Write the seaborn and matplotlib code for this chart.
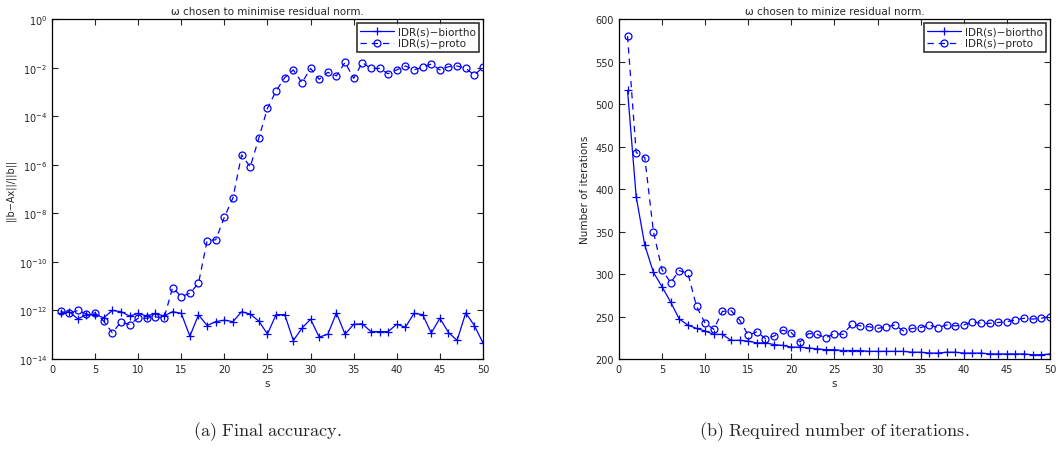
import numpy as np
import pandas as pd
import matplotlib
matplotlib.use('Agg')
import matplotlib.pyplot as plt
import seaborn as sns

# data
s = list(range(1, 51))

# log10 of final relative residual
acc_biortho_log = [-12.12, -12.05, -12.35, -12.17, -12.17, -12.30, -12.00, -12.05, -12.23, -12.12,
                   -12.23, -12.12, -12.23, -12.05, -12.12, -13.06, -12.18, -12.62, -12.46, -12.40,
                   -12.46, -12.05, -12.15, -12.44, -12.97, -12.17, -12.17, -13.24, -12.73, -12.36,
                   -13.10, -12.98, -12.10, -12.98, -12.57, -12.55, -12.87, -12.87, -12.87, -12.57,
                   -12.69, -12.12, -12.17, -12.93, -12.32, -12.91, -13.23, -12.10, -12.62, -13.34]
acc_proto_log = [-12.04, -12.12, -12.00, -12.15, -12.10, -12.44, -12.92, -12.48, -12.58, -12.32,
                 -12.32, -12.26, -12.32, -11.06, -11.43, -11.29, -10.88, -9.12, -9.09, -8.16,
                 -7.36, -5.59, -6.09, -4.90, -3.67, -2.96, -2.41, -2.09, -2.62, -2.03,
                 -2.48, -2.19, -2.34, -1.78, -2.44, -1.79, -2.03, -2.03, -2.25, -2.09,
                 -1.93, -2.09, -1.98, -1.85, -2.09, -1.96, -1.93, -2.03, -2.30, -1.98]

iter_biortho = [516, 391, 334, 302, 285, 267, 247, 240, 236, 233,
                229, 229, 222, 222, 221, 219, 219, 217, 216, 214,
                214, 213, 212, 211, 211, 210, 210, 210, 209, 209,
                209, 209, 209, 208, 208, 207, 207, 208, 208, 207,
                207, 207, 206, 206, 206, 206, 206, 205, 205, 206]
iter_proto = [580, 443, 437, 350, 305, 290, 304, 301, 262, 242,
              235, 256, 257, 246, 228, 232, 224, 227, 234, 231,
              220, 230, 229, 225, 230, 229, 241, 239, 238, 236,
              238, 240, 233, 236, 237, 240, 237, 240, 239, 240,
              244, 242, 242, 243, 244, 246, 248, 247, 248, 250]

labels = ['IDR(s)\u2212biortho', 'IDR(s)\u2212proto']

sns.set_style("ticks")
plt.rcParams['font.family'] = ['DejaVu Sans']
plt.rcParams['mathtext.fontset'] = 'cm'

fig = plt.figure(figsize=(10.58, 4.52), dpi=100)
ax1 = fig.add_axes([0.0491, 0.2035, 0.4074, 0.752])
ax2 = fig.add_axes([0.585, 0.2035, 0.4074, 0.752])

blue = '#0000ff'
solid_kw = dict(color=blue, marker='+', markersize=6, linewidth=0.9,
                markeredgecolor=blue, markeredgewidth=0.9)
dash_kw = dict(color=blue, marker='o', markersize=5, linewidth=0.9, markerfacecolor='none',
               markeredgecolor=blue, markeredgewidth=0.9, dashes=(5, 4))

# (a) final accuracy
sns.lineplot(x=s, y=10.0 ** np.array(acc_biortho_log), ax=ax1, label=labels[0], **solid_kw)
sns.lineplot(x=s, y=10.0 ** np.array(acc_proto_log), ax=ax1, label=labels[1], **dash_kw)
ax1.set_yscale('log')
ax1.set_ylim(1e-14, 1)
ax1.set_yticks([10.0 ** k for k in range(-14, 1, 2)])
ax1.yaxis.set_minor_locator(matplotlib.ticker.NullLocator())
ax1.set_ylabel('||b\u2212Ax||/||b||', fontsize=7, labelpad=2)
ax1.set_title('\u03c9 chosen to minimise residual norm.', fontsize=7.5, pad=4)

# (b) iterations
sns.lineplot(x=s, y=iter_biortho, ax=ax2, label=labels[0], **solid_kw)
sns.lineplot(x=s, y=iter_proto, ax=ax2, label=labels[1], **dash_kw)
ax2.set_ylim(200, 600)
ax2.set_yticks(range(200, 601, 50))
ax2.set_ylabel('Number of iterations', fontsize=7.5, labelpad=4)
ax2.set_title('\u03c9 chosen to minize residual norm.', fontsize=7.5, pad=4)

for ax in (ax1, ax2):
    ax.set_xlim(0, 50)
    ax.set_xticks(range(0, 51, 5))
    ax.set_xlabel('s', fontsize=7.5, labelpad=3)
    ax.tick_params(direction='in', top=True, right=True, labelsize=7, length=4, width=0.8)
    for sp in ax.spines.values():
        sp.set_visible(True)
        sp.set_linewidth(0.9)
        sp.set_color('black')
    leg = ax.legend(loc='upper right', fontsize=7.5, frameon=True, fancybox=False,
                    borderpad=0.3, labelspacing=0.2, handlelength=3.2, handletextpad=0.4,
                    borderaxespad=0.4)
    leg.get_frame().set_edgecolor('black')
    leg.get_frame().set_linewidth(1.2)

fig.text(0.0491 + 0.4074 / 2, 0.045, r'$\mathrm{(a)\ Final\ accuracy.}$',
         ha='center', va='center', fontsize=13)
fig.text(0.585 + 0.4074 / 2, 0.045, r'$\mathrm{(b)\ Required\ number\ of\ iterations.}$',
         ha='center', va='center', fontsize=13)

fig.savefig('out.png', dpi=100)
